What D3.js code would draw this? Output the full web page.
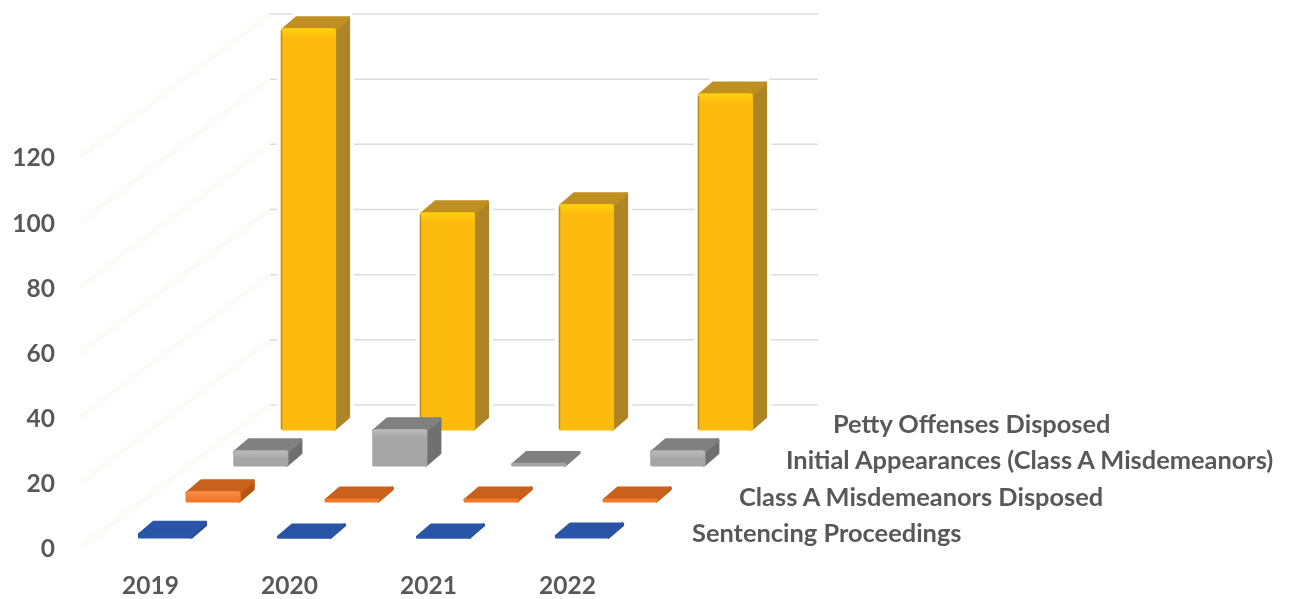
<!DOCTYPE html>
<html>
<head>
<meta charset="utf-8">
<script src="https://cdn.jsdelivr.net/npm/d3@7"></script>
<style>
  html, body { margin: 0; padding: 0; background: #fff; }
  text { font-family: Lato, "Open Sans", sans-serif; font-weight: 700; fill: #595959; }
</style>
</head>
<body>
<svg id="chart" width="1298" height="599"></svg>
<script>
const years = ["2019", "2020", "2021", "2022"];
const seriesNames = [
  "Sentencing Proceedings",
  "Class A Misdemeanors Disposed",
  "Initial Appearances (Class A Misdemeanors)",
  "Petty Offenses Disposed"
];
const sentencing = [0.8, 0, 0, 0.3];
const classA = [2.5, 0.3, 0.3, 0.3];
const initialApp = [4, 10.5, 0.2, 4];
const petty = [122.5, 66, 68.5, 102.5];
const seriesValues = [sentencing, classA, initialApp, petty];
const yTicks = [0, 20, 40, 60, 80, 100, 120];

// front, top, side, highlight for each series
const faceColors = [
  ["#2c57a8", "#2a55a6", "#234a92", "#3763b4"],
  ["#f0782a", "#c9601a", "#b5560f", "#f98f45"],
  ["#a5a5a5", "#808080", "#6f6f6f", "#bcbcbc"],
  ["#fdbc08", "#bf8f20", "#ad8426", "#ffd208"]
];

const svg = d3.select("#chart");
const barW = 52, depthX = 14, depthY = 12;

const defs = svg.append("defs");
// the reference is a soft scan, so take the edge off a little
defs.append("filter").attr("id", "soft")
  .append("feGaussianBlur").attr("stdDeviation", 0.6);
defs.append("filter").attr("id", "softText")
  .append("feGaussianBlur").attr("stdDeviation", 0.35);
faceColors.forEach((c, s) => {
  const lg = defs.append("linearGradient").attr("id", "hi" + s)
    .attr("x1", 0).attr("x2", 0).attr("y1", 0).attr("y2", 1);
  lg.append("stop").attr("offset", 0).attr("stop-color", c[3]);
  lg.append("stop").attr("offset", 1).attr("stop-color", c[0]);
});

// 3d-ish projection: each series row moves right and up
const xYear = d3.scalePoint().domain(years).range([139.5, 556.5]);
const rowX = d3.scalePoint().domain(seriesNames).range([0, 143]);
const rowY = d3.scalePoint().domain(seriesNames).range([537, 429]);
const height = d3.scaleLinear().domain([0, 120]).range([0, 391]);

// walls
const frontY = v => 548 - height(v);
const backY = v => 405 - height(v);
const wall = { fx: 80, bx: 270, right: 818 };

const grid = svg.append("g");
grid.selectAll("line.side").data(yTicks).join("line")
  .attr("class", "side")
  .attr("x1", wall.fx).attr("y1", frontY)
  .attr("x2", wall.bx).attr("y2", backY)
  .attr("stroke", "#fcfbfa").attr("stroke-width", 6);
grid.selectAll("line.back").data(yTicks).join("line")
  .attr("class", "back")
  .attr("x1", wall.bx).attr("y1", backY)
  .attr("x2", wall.right).attr("y2", backY)
  .attr("stroke", "#dcdcdc").attr("stroke-width", 1.5);

// back rows first so nearer ones sit on top
const bars = [];
seriesNames.forEach((name, s) => {
  years.forEach((yr, i) => {
    bars.push({ s, name, yr, v: seriesValues[s][i] });
  });
});
bars.sort((a, b) => b.s - a.s);

const poly = pts => d3.line()(pts) + "Z";

const g = svg.append("g");
bars.forEach(b => {
  const x = xYear(b.yr) + rowX(b.name);
  const base = rowY(b.name);
  const top = base - height(b.v);
  const c = faceColors[b.s];

  // petty bars knock a small gap out of the gridlines
  if (b.s === 3) {
    g.append("path")
      .attr("d", poly([[x, base], [x, top], [x + depthX, top - depthY], [x + barW + depthX, top - depthY], [x + barW + depthX, base - depthY], [x + barW, base]]))
      .attr("fill", "#fff").attr("stroke", "#fff").attr("stroke-width", 11)
      .attr("stroke-linejoin", "round");
  }

  const bar = g.append("g")
    .attr("stroke-linejoin", "round")
    .attr("stroke-width", 3.2)
    .attr("filter", "url(#soft)");
  bar.append("path")
    .attr("d", poly([[x + barW, base], [x + barW, top], [x + barW + depthX, top - depthY], [x + barW + depthX, base - depthY]]))
    .attr("fill", c[2]).attr("stroke", c[2]);
  bar.append("path")
    .attr("d", poly([[x, top], [x + depthX, top - depthY], [x + barW + depthX, top - depthY], [x + barW, top]]))
    .attr("fill", c[1]).attr("stroke", c[1]);
  bar.append("path")
    .attr("d", poly([[x, base], [x, top], [x + barW, top], [x + barW, base]]))
    .attr("fill", c[0]).attr("stroke", c[0]);
  if (base - top > 6) {
    bar.append("rect")
      .attr("x", x - 1).attr("y", top - 1.5)
      .attr("width", barW + 2).attr("height", 9)
      .attr("rx", 3)
      .attr("fill", "url(#hi" + b.s + ")");
  }
  if (b.s === 3) {
    bar.append("line")
      .attr("x1", x - 1).attr("x2", x - 1)
      .attr("y1", top + 1).attr("y2", base)
      .attr("stroke", "#b98c1e").attr("stroke-width", 1.5);
  }
});

// value axis, read on the front edge
const yAxis = d3.axisLeft(d3.scaleLinear().domain([0, 120]).range([549, 158]))
  .tickValues(yTicks).tickSize(0).tickPadding(0);
svg.append("g")
  .attr("transform", "translate(55,0)")
  .call(yAxis)
  .call(a => a.select(".domain").remove())
  .selectAll("text")
  .attr("font-size", 24.5)
  .attr("filter", "url(#softText)")
  .style("font-family", "Lato, sans-serif");

// year axis
const xAxis = d3.axisBottom(d3.scalePoint().domain(years).range([150, 567]))
  .tickSize(0).tickPadding(0);
svg.append("g")
  .attr("transform", "translate(0,577)")
  .call(xAxis)
  .call(a => a.select(".domain").remove())
  .selectAll("text")
  .attr("font-size", 24.5)
  .attr("filter", "url(#softText)")
  .style("font-family", "Lato, sans-serif");

// series names on the depth axis
const labelX = d3.scalePoint().domain(seriesNames).range([692, 833]);
const labelY = d3.scalePoint().domain(seriesNames).range([542, 433]);
svg.append("g").selectAll("text").data(seriesNames).join("text")
  .attr("x", labelX).attr("y", labelY)
  .attr("font-size", 25.4)
  .attr("filter", "url(#softText)")
  .text(d => d);
</script>
</body>
</html>
